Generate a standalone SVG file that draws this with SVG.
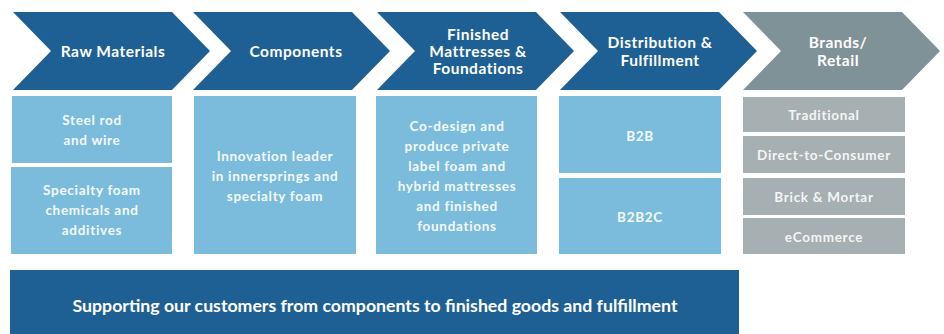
<svg xmlns="http://www.w3.org/2000/svg" width="944" height="334" viewBox="0 0 944 334">
  <defs>
    <style>
      .stage { fill: #1e5f94; }
      .stage-gray { fill: #7f9297; }
      .cell { fill: #7bbcdc; }
      .cell-gray { fill: #a6afb2; }
      .band { fill: #1e5f94; }
      text { font-family: "Lato", "Open Sans", "DejaVu Sans", sans-serif; font-weight: bold; fill: #ffffff; text-anchor: middle; dominant-baseline: central; }
      .head { font-size: 15.5px; letter-spacing: 0.5px; }
      .body { font-size: 13.5px; fill: #f4f9fc; letter-spacing: 0.7px; }
      .body-gray { font-size: 13.5px; fill: #f4f6f6; letter-spacing: 0.7px; }
      .band-text { font-size: 17px; }
    </style>
  </defs>
  <rect width="944" height="334" fill="#ffffff"/>

  <!-- Stage chevrons -->
  <g id="raw-materials">
    <polygon class="stage" points="13,12 172,12 210,51 172,90 13,90 51,51"/>
    <text class="head" x="113" y="51">Raw Materials</text>
  </g>
  <g id="components">
    <polygon class="stage" points="193,12 352,12 390,51 352,90 193,90 231,51"/>
    <text class="head" x="296" y="51">Components</text>
  </g>
  <g id="finished-mattresses">
    <polygon class="stage" points="377,12 536,12 574,51 536,90 377,90 415,51"/>
    <text class="head" x="478" y="34">Finished</text>
    <text class="head" x="478" y="51">Mattresses &amp;</text>
    <text class="head" x="478" y="68">Foundations</text>
  </g>
  <g id="distribution">
    <polygon class="stage" points="560,12 719,12 757,51 719,90 560,90 598,51"/>
    <text class="head" x="660" y="42">Distribution &amp;</text>
    <text class="head" x="660" y="60">Fulfillment</text>
  </g>
  <g id="brands-retail">
    <polygon class="stage-gray" points="743,12 902,12 940,51 902,90 743,90 781,51"/>
    <text class="head" x="838" y="42">Brands/</text>
    <text class="head" x="838" y="60">Retail</text>
  </g>

  <!-- Detail cells -->
  <g id="steel-rod">
    <rect class="cell" x="12" y="96" width="160" height="67"/>
    <text class="body" x="92" y="120">Steel rod</text>
    <text class="body" x="92" y="140">and wire</text>
  </g>
  <g id="specialty-foam">
    <rect class="cell" x="11" y="167" width="161" height="87"/>
    <text class="body" x="92" y="190">Specialty foam</text>
    <text class="body" x="92" y="210">chemicals and</text>
    <text class="body" x="92" y="230">additives</text>
  </g>
  <g id="innovation-leader">
    <rect class="cell" x="194" y="96" width="162" height="158"/>
    <text class="body" x="275" y="156">Innovation leader</text>
    <text class="body" x="275" y="176">in innersprings and</text>
    <text class="body" x="275" y="196">specialty foam</text>
  </g>
  <g id="co-design">
    <rect class="cell" x="376" y="96" width="161" height="158"/>
    <text class="body" x="457" y="126">Co-design and</text>
    <text class="body" x="457" y="146">produce private</text>
    <text class="body" x="457" y="166">label foam and</text>
    <text class="body" x="457" y="186">hybrid mattresses</text>
    <text class="body" x="457" y="206">and finished</text>
    <text class="body" x="457" y="226">foundations</text>
  </g>
  <g id="b2b">
    <rect class="cell" x="559" y="96" width="162" height="77"/>
    <text class="body" x="640" y="136">B2B</text>
  </g>
  <g id="b2b2c">
    <rect class="cell" x="559" y="178" width="162" height="76"/>
    <text class="body" x="640" y="217">B2B2C</text>
  </g>
  <g id="traditional">
    <rect class="cell-gray" x="743" y="97" width="162" height="35"/>
    <text class="body-gray" x="824" y="115">Traditional</text>
  </g>
  <g id="direct-to-consumer">
    <rect class="cell-gray" x="743" y="136" width="162" height="37"/>
    <text class="body-gray" x="824" y="155">Direct-to-Consumer</text>
  </g>
  <g id="brick-mortar">
    <rect class="cell-gray" x="743" y="178" width="162" height="37"/>
    <text class="body-gray" x="824" y="197">Brick &amp; Mortar</text>
  </g>
  <g id="ecommerce">
    <rect class="cell-gray" x="743" y="218" width="162" height="36"/>
    <text class="body-gray" x="824" y="237">eCommerce</text>
  </g>

  <!-- Summary band -->
  <g id="summary">
    <rect class="band" x="10" y="270" width="729" height="64"/>
    <text class="band-text" x="375" y="305" textLength="605" lengthAdjust="spacingAndGlyphs">Supporting our customers from components to finished goods and fulfillment</text>
  </g>

  <g id="connectors"/>
</svg>
